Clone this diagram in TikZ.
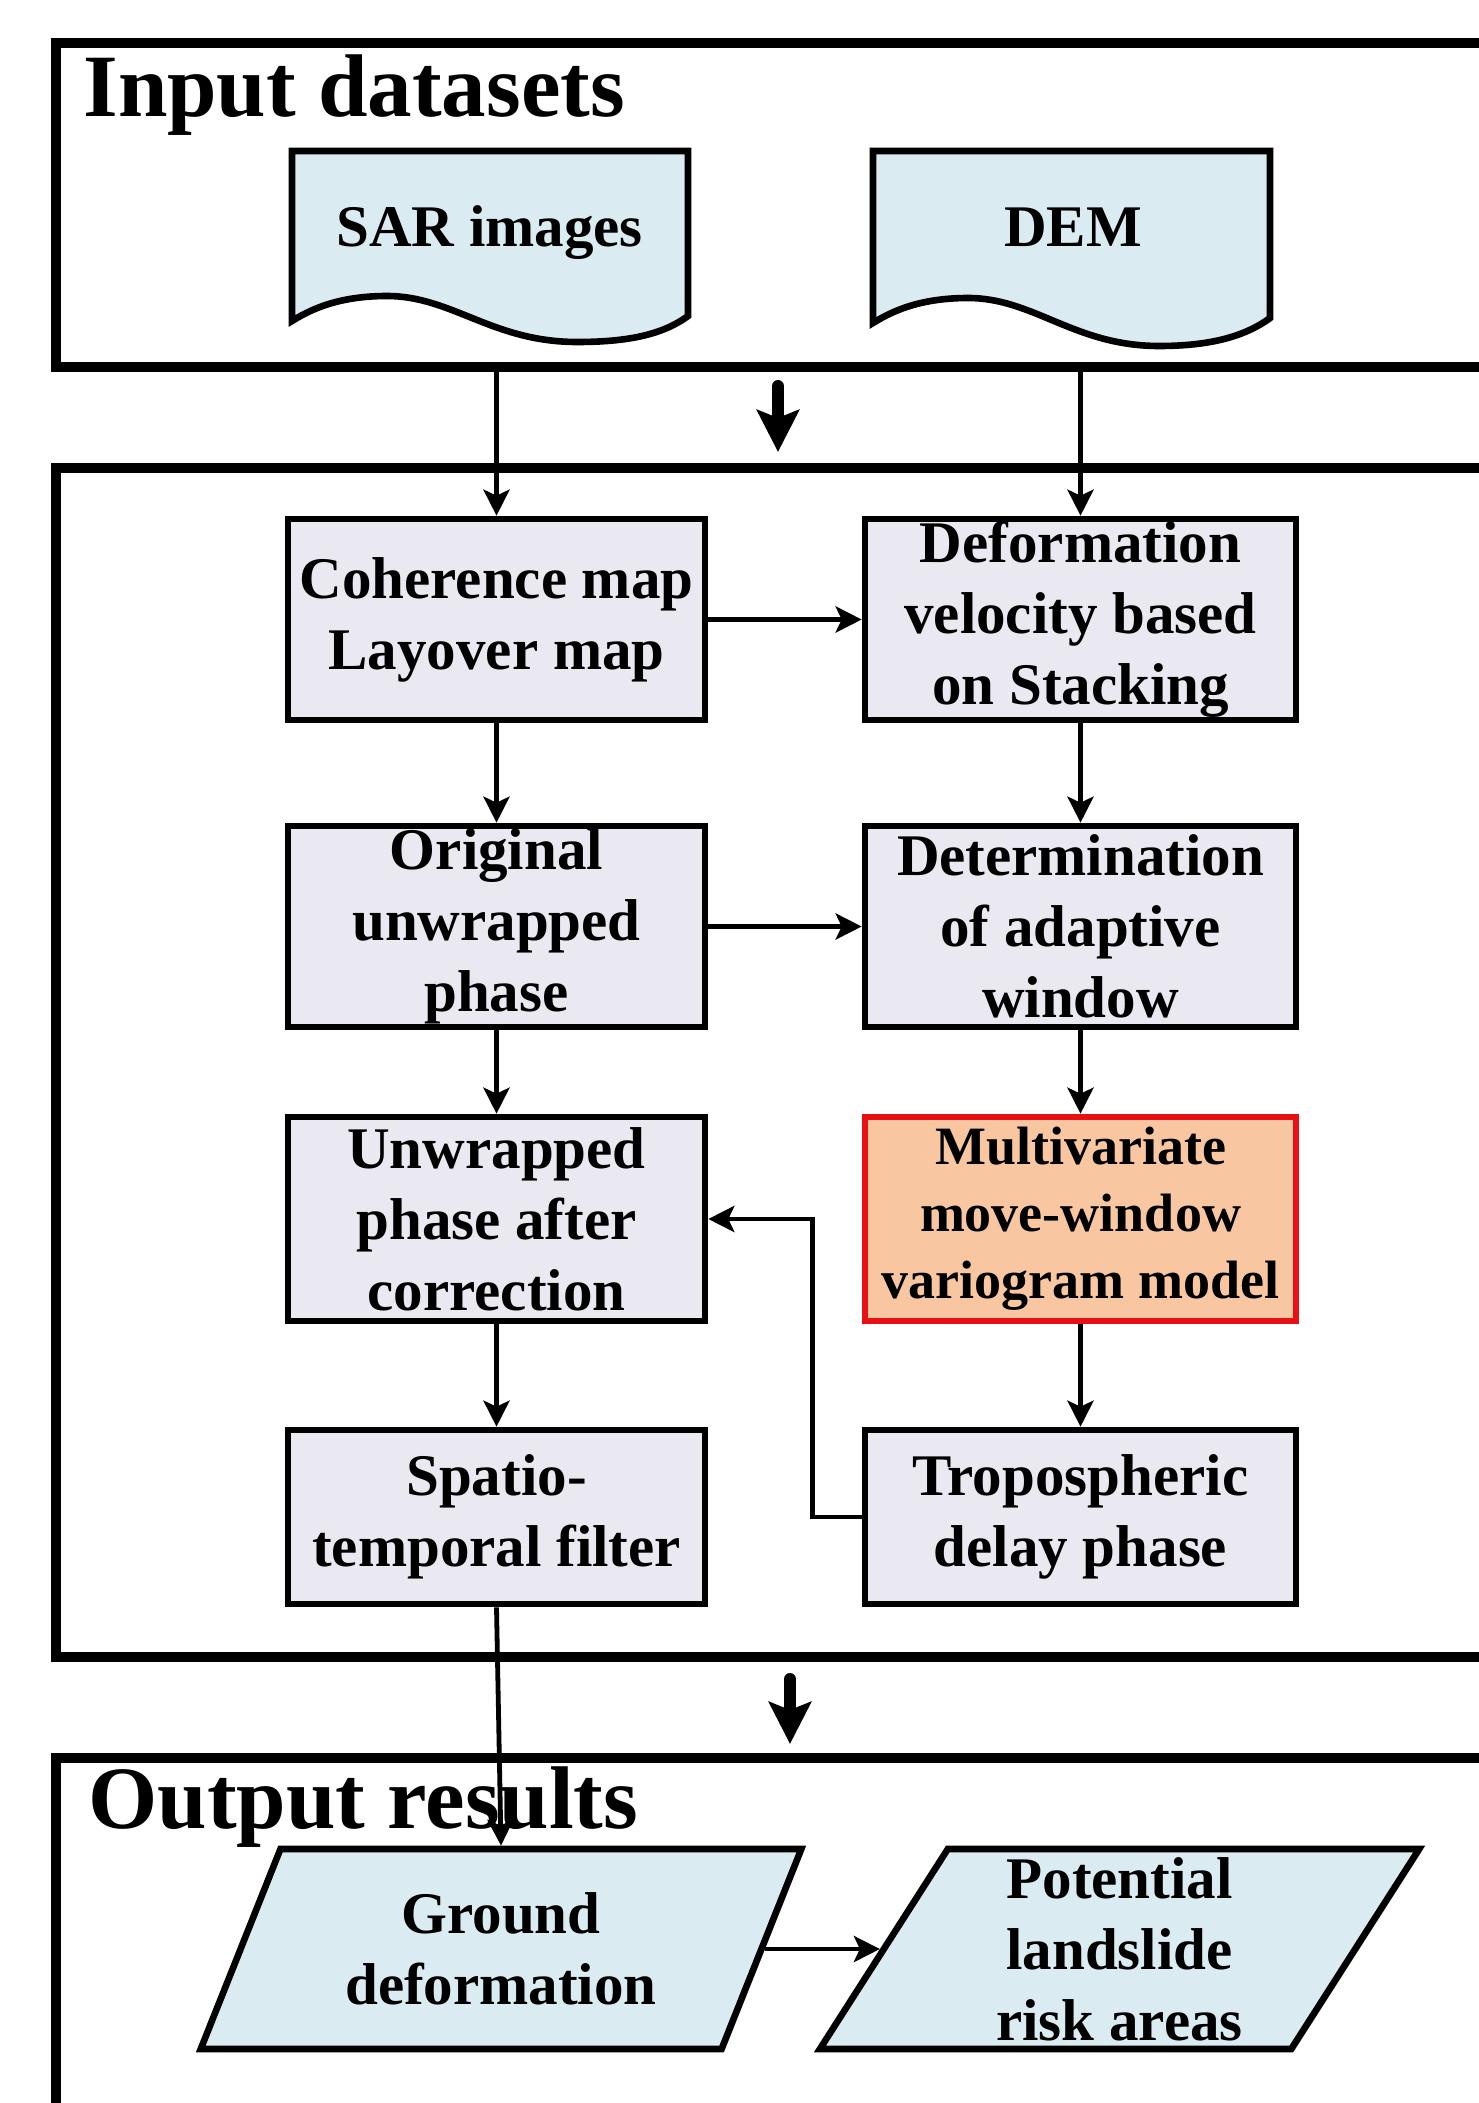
\documentclass[tikz,border=0pt]{standalone}
\usepackage{fontspec}
\setmainfont{Liberation Serif}
\usetikzlibrary{arrows.meta,shapes.geometric,shadows}
\definecolor{boxgray}{RGB}{234,232,240}
\definecolor{docblue}{RGB}{218,235,242}
\definecolor{orangefill}{RGB}{248,198,160}
\definecolor{redline}{RGB}{232,16,20}
\begin{document}
\begin{tikzpicture}[x=0.5pt,y=-0.5pt,
  outer/.style={draw=black,line width=5pt,rectangle,inner sep=0pt,anchor=north west},
  shadowed/.style={drop shadow={shadow xshift=1.3pt,shadow yshift=-1.3pt,fill=black,opacity=0.3}},
  boxtext/.style={font=\fontsize{29.5pt}{35.5pt}\selectfont\bfseries,align=center},
  procbox/.style={rectangle,draw=black,line width=3.3pt,fill=boxgray,inner sep=0pt,
    minimum height=100.5pt,boxtext,shadowed},
  docshape/.style={draw=black,line width=3.3pt,fill=docblue,shadowed},
  parbox/.style={trapezium,trapezium left angle=63.43,trapezium right angle=116.57,
    trapezium stretches=true,minimum width=300.5pt,minimum height=100pt,inner sep=0pt,
    draw=black,line width=3.3pt,fill=docblue,boxtext,shadowed},
  title/.style={font=\fontsize{44.5pt}{50pt}\selectfont\bfseries,anchor=base west,inner sep=0pt},
  arr/.style={draw=black,line width=2.4pt,-{Stealth[length=13pt,width=13pt,inset=3pt]}},
  bigarr/.style={draw=black,line width=6pt,line cap=round,-{Stealth[length=21pt,width=21pt,inset=4pt]}}
]
\useasboundingbox (0,0) rectangle (1478,2103);
\fill[white] (0,0) rectangle (1478,2103);

% outer frames
\node[outer,minimum width=724.5pt,minimum height=162pt] (inbox) at (51,38) {};
\node[outer,minimum width=724.5pt,minimum height=594.5pt] (midbox) at (51,463) {};
\node[outer,minimum width=724.5pt,minimum height=193.5pt] (outbox) at (51,1753) {};

\node[title] (tin) at (83,117) {Input datasets};
\node[title] (tout) at (88,1828) {Output results};

% documents
\draw[docshape] (292,151) -- (688,151) -- (688,316)
  .. controls (662,335) and (627,342) .. (577,342)
  .. controls (492,342) and (452,296) .. (387,296)
  .. controls (347,296) and (317,305) .. (292,321) -- cycle;
\draw[docshape] (873,151) -- (1270,151) -- (1270,318)
  .. controls (1244,337) and (1209,346) .. (1159,346)
  .. controls (1074,346) and (1034,298) .. (968,298)
  .. controls (928,298) and (898,307) .. (873,323) -- cycle;
\node[boxtext,anchor=base] (sar) at (489.5,247) {SAR images};
\node[boxtext,anchor=base] (dem) at (1073,247) {DEM};

% process boxes
\node[procbox,minimum width=208.5pt] (coh) at (496.5,619.5) {Coherence map\\Layover map};
\node[procbox,minimum width=215.5pt] (def) at (1080.5,619.5) {Deformation\\velocity based\\on Stacking};
\node[procbox,minimum width=208.5pt] (orig) at (496.5,926.5) {Original\\unwrapped\\phase};
\node[procbox,minimum width=215.5pt] (det) at (1080.5,926.5) {Determination\\of adaptive\\window};
\node[procbox,minimum width=208.5pt,minimum height=102pt] (unw) at (496.5,1219) {Unwrapped\\phase after\\correction};
\node[procbox,minimum width=215.5pt,minimum height=102pt,draw=redline,fill=orangefill,
  font=\fontsize{27pt}{33.5pt}\selectfont\bfseries] (mult) at (1080.5,1219) {Multivariate\\move-window\\variogram model};
\node[procbox,minimum width=208.5pt,minimum height=87pt] (spa) at (496.5,1517) {Spatio-\\temporal filter};
\node[procbox,minimum width=215.5pt,minimum height=87pt] (tro) at (1080.5,1517) {Tropospheric\\delay phase};

% outputs
\node[parbox] (gd) at (501,1949) {Ground\\deformation};
\node[parbox] (pot) at (1119.5,1949) {Potential\\landslide\\risk areas};

% connectors
\draw[arr] (coh.north |- inbox.south) -- (coh.north);
\draw[arr] (def.north |- inbox.south) -- (def.north);
\draw[arr] (coh.east) -- (def.west);
\draw[arr] (coh.south) -- (orig.north);
\draw[arr] (def.south) -- (det.north);
\draw[arr] (orig.east) -- (det.west);
\draw[arr] (orig.south) -- (unw.north);
\draw[arr] (det.south) -- (mult.north);
\draw[arr] (unw.south) -- (spa.north);
\draw[arr] (mult.south) -- (tro.north);
\draw[arr] (tro.west) -- ++(-49,0) |- (unw.east);
\draw[arr] (spa.south) -- (gd.north);
\draw[arr] (gd.right side) -- (pot.left side);

% big arrows between frames
\coordinate (ba) at (778,0);
\coordinate (bb) at (790,0);
\draw[bigarr] ([yshift=-7pt]inbox.south -| ba) -- ([yshift=5.5pt]midbox.north -| ba);
\draw[bigarr] ([yshift=-8.5pt]midbox.south -| bb) -- ([yshift=4.5pt]outbox.north -| bb);
\end{tikzpicture}
\end{document}
